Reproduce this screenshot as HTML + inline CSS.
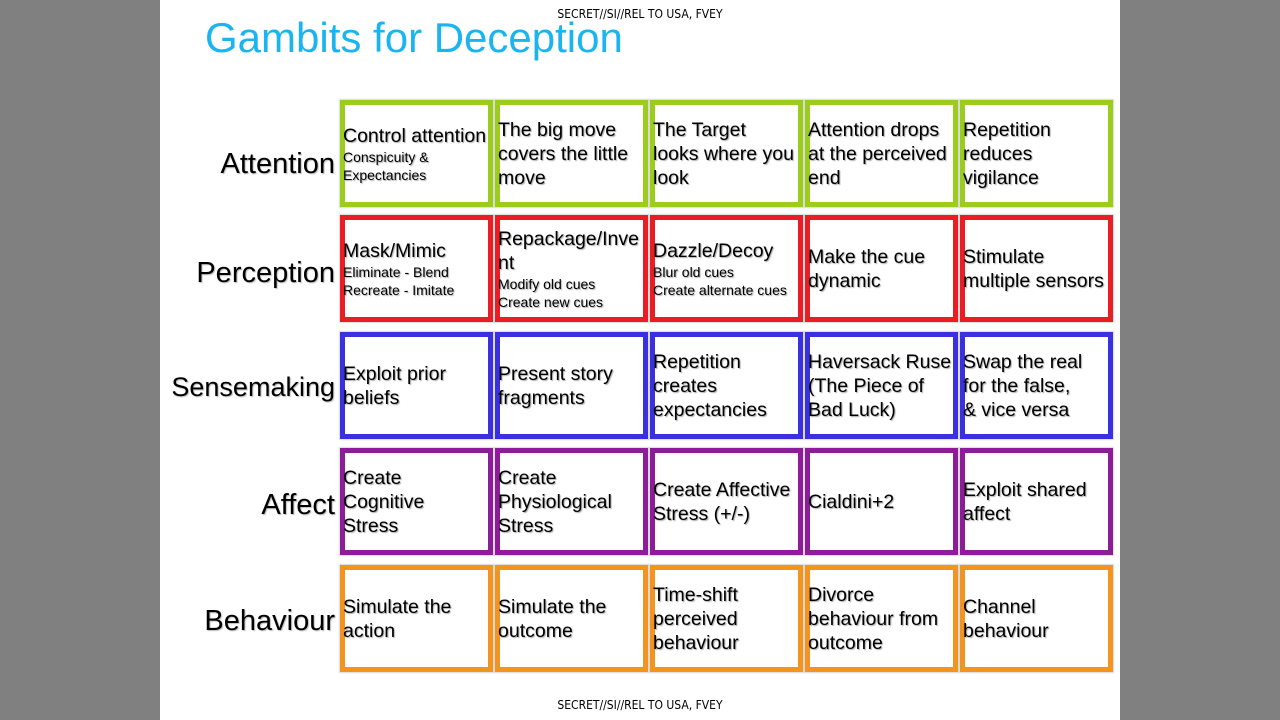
<!DOCTYPE html>
<html><head><meta charset="utf-8"><style>
body{margin:0;width:1280px;height:720px;background:#808080;position:relative;overflow:hidden;font-family:"Liberation Sans",Arial,sans-serif;}
.slide{position:absolute;left:160px;top:0;width:960px;height:720px;background:#fff;}
.cls{position:absolute;left:0;width:1280px;text-align:center;font-size:12px;color:#000;font-family:"DejaVu Sans Condensed","Liberation Sans Narrow",sans-serif;}
.title{position:absolute;left:205px;top:14px;font-size:42px;color:#1ab4f0;}
.lab{position:absolute;right:945px;font-size:29px;color:#000;text-shadow:1px 1px 1px #bbb;white-space:nowrap;}
.b{position:absolute;width:143px;height:97px;border:5px solid;display:flex;flex-direction:column;justify-content:center;padding-left:0;font-size:19.5px;line-height:24px;color:#000;text-shadow:1px 1px 1px #aaa;white-space:nowrap;overflow:visible;box-shadow:0 0 1px 1px rgba(0,0,0,0.15);}
.b div{margin-left:-2px}
.s{font-size:14px;line-height:18px;}
.g{border-color:#9ccc1c}.r{border-color:#ec1c24}.u{border-color:#3a30e0}.p{border-color:#8c1c98}.o{border-color:#f4941e}
</style></head><body>
<div class="slide"></div>
<div class="cls" style="top:7px">SECRET//SI//REL TO USA, FVEY</div>
<div class="cls" style="top:698px">SECRET//SI//REL TO USA, FVEY</div>
<div class="title">Gambits for Deception</div>

<div class="lab" style="top:148px">Attention</div>
<div class="lab" style="top:257px">Perception</div>
<div class="lab" style="top:372px;font-size:27px">Sensemaking</div>
<div class="lab" style="top:489px">Affect</div>
<div class="lab" style="top:605px">Behaviour</div>

<div class="b g" style="left:340px;top:100px"><div>Control attention</div><div class="s">Conspicuity &amp;</div><div class="s">Expectancies</div></div>
<div class="b g" style="left:495px;top:100px"><div>The big move<br>covers the little<br>move</div></div>
<div class="b g" style="left:650px;top:100px"><div>The Target<br>looks where you<br>look</div></div>
<div class="b g" style="left:805px;top:100px"><div>Attention drops<br>at the perceived<br>end</div></div>
<div class="b g" style="left:960px;top:100px"><div>Repetition<br>reduces<br>vigilance</div></div>

<div class="b r" style="left:340px;top:215px"><div>Mask/Mimic</div><div class="s">Eliminate - Blend</div><div class="s">Recreate - Imitate</div></div>
<div class="b r" style="left:495px;top:215px"><div>Repackage/Inve<br>nt</div><div class="s">Modify old cues</div><div class="s">Create new cues</div></div>
<div class="b r" style="left:650px;top:215px"><div>Dazzle/Decoy</div><div class="s">Blur old cues</div><div class="s">Create alternate cues</div></div>
<div class="b r" style="left:805px;top:215px"><div>Make the cue<br>dynamic</div></div>
<div class="b r" style="left:960px;top:215px"><div>Stimulate<br>multiple sensors</div></div>

<div class="b u" style="left:340px;top:332px"><div>Exploit prior<br>beliefs</div></div>
<div class="b u" style="left:495px;top:332px"><div>Present story<br>fragments</div></div>
<div class="b u" style="left:650px;top:332px"><div>Repetition<br>creates<br>expectancies</div></div>
<div class="b u" style="left:805px;top:332px"><div>Haversack Ruse<br>(The Piece of<br>Bad Luck)</div></div>
<div class="b u" style="left:960px;top:332px"><div>Swap the real<br>for the false,<br>&amp; vice versa</div></div>

<div class="b p" style="left:340px;top:448px"><div>Create<br>Cognitive<br>Stress</div></div>
<div class="b p" style="left:495px;top:448px"><div>Create<br>Physiological<br>Stress</div></div>
<div class="b p" style="left:650px;top:448px"><div>Create Affective<br>Stress (+/-)</div></div>
<div class="b p" style="left:805px;top:448px"><div>Cialdini+2</div></div>
<div class="b p" style="left:960px;top:448px"><div>Exploit shared<br>affect</div></div>

<div class="b o" style="left:340px;top:565px"><div>Simulate the<br>action</div></div>
<div class="b o" style="left:495px;top:565px"><div>Simulate the<br>outcome</div></div>
<div class="b o" style="left:650px;top:565px"><div>Time-shift<br>perceived<br>behaviour</div></div>
<div class="b o" style="left:805px;top:565px"><div>Divorce<br>behaviour from<br>outcome</div></div>
<div class="b o" style="left:960px;top:565px"><div>Channel<br>behaviour</div></div>
</body></html>
